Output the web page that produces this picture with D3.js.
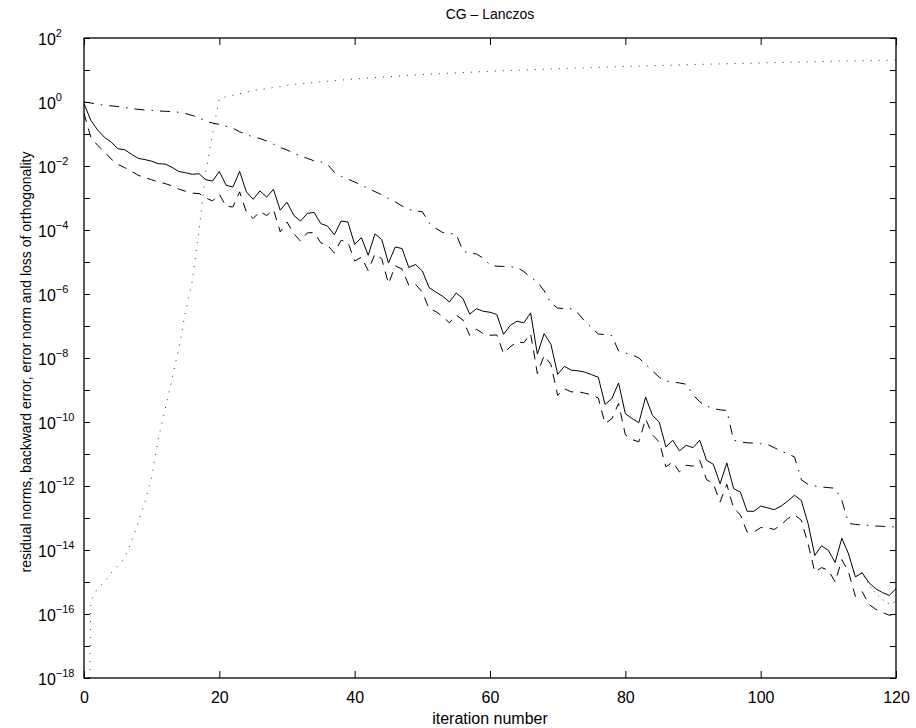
<!DOCTYPE html>
<html>
<head>
<meta charset="utf-8">
<script src="https://cdn.jsdelivr.net/npm/d3@7"></script>
<style>
  html, body { margin: 0; padding: 0; background: #fff; }
  svg { display: block; font-family: "Liberation Sans", Arial, Helvetica, sans-serif; }
</style>
</head>
<body>
<svg id="chart" width="916" height="728"></svg>
<script>
/* CG - Lanczos convergence plot (log10 values) */

const ITER_MAX = 120;
const X_TICKS = [0, 20, 40, 60, 80, 100, 120];
const Y_DECADES = d3.range(-18, 3); // 10^-18 .. 10^2

// residual norm (solid), log10, iterations 0..120
const residualLog = [
  -0.05, -0.57, -0.87, -1.10, -1.25, -1.46, -1.49, -1.63, -1.76, -1.80,
  -1.85, -1.93, -1.94, -2.04, -2.17, -2.21, -2.26, -2.24, -2.43, -2.47,
  -2.17, -2.60, -2.66, -2.17, -2.81, -3.04, -2.78, -2.97, -2.73, -3.38,
  -3.13, -3.54, -3.72, -3.48, -3.45, -3.80, -3.88, -4.15, -3.72, -3.75,
  -4.45, -4.24, -4.79, -4.12, -4.30, -5.03, -4.53, -4.58, -5.17, -5.08,
  -5.28, -5.80, -5.94, -6.07, -6.25, -5.97, -6.14, -6.63, -6.46, -6.54,
  -6.57, -6.64, -7.26, -6.98, -6.85, -6.90, -6.59, -7.88, -7.24, -7.57,
  -8.51, -8.26, -8.38, -8.40, -8.44, -8.52, -8.60, -9.45, -9.27, -8.78,
  -9.74, -9.89, -10.02, -9.22, -9.79, -10.00, -10.78, -10.57, -10.90, -10.73,
  -10.80, -10.57, -11.20, -11.32, -11.93, -11.28, -12.08, -12.19, -12.79, -12.79,
  -12.63, -12.68, -12.74, -12.63, -12.47, -12.29, -12.45, -13.17, -14.17, -13.87,
  -14.01, -14.39, -13.63, -14.13, -14.84, -14.71, -15.02, -15.21, -15.33, -15.42,
  -15.21
];

// backward error (dashed), log10, iterations 0..120
const backwardLog = [
  -0.35, -1.10, -1.35, -1.55, -1.78, -1.95, -2.05, -2.16, -2.29, -2.36,
  -2.43, -2.50, -2.55, -2.62, -2.72, -2.79, -2.85, -2.86, -3.00, -3.09,
  -2.88, -3.26, -3.28, -2.81, -3.44, -3.64, -3.42, -3.55, -3.36, -4.06,
  -3.75, -4.11, -4.35, -4.09, -4.08, -4.40, -4.48, -4.72, -4.32, -4.38,
  -4.97, -4.85, -5.27, -4.75, -4.90, -5.68, -5.12, -5.22, -5.73, -5.70,
  -5.94, -6.46, -6.55, -6.70, -6.90, -6.66, -6.81, -7.29, -7.10, -7.24,
  -7.29, -7.28, -7.86, -7.65, -7.50, -7.52, -7.24, -8.49, -7.92, -8.20,
  -9.17, -8.96, -9.06, -9.05, -9.10, -9.15, -9.25, -10.05, -9.90, -9.42,
  -10.40, -10.55, -10.62, -9.90, -10.40, -10.62, -11.40, -11.25, -11.56, -11.35,
  -11.38, -11.20, -11.80, -11.93, -12.50, -11.95, -12.70, -12.90, -13.44, -13.44,
  -13.30, -13.30, -13.36, -13.22, -13.02, -12.90, -13.07, -13.80, -14.69, -14.55,
  -14.63, -15.00, -14.30, -14.70, -15.45, -15.30, -15.70, -15.85, -15.95, -16.04,
  -15.99
];

// error norm (dash-dot), log10, iterations 0..120
const errorLog = [
  0.00, -0.03, -0.07, -0.10, -0.12, -0.14, -0.17, -0.20, -0.23, -0.25,
  -0.26, -0.28, -0.29, -0.30, -0.32, -0.36, -0.42, -0.49, -0.60, -0.66,
  -0.70, -0.76, -0.82, -0.93, -1.02, -1.09, -1.14, -1.22, -1.32, -1.42,
  -1.50, -1.60, -1.69, -1.76, -1.84, -1.87, -1.95, -2.20, -2.32, -2.41,
  -2.50, -2.60, -2.70, -2.80, -2.90, -3.02, -3.12, -3.25, -3.36, -3.40,
  -3.43, -3.78, -3.95, -4.08, -4.11, -4.13, -4.66, -4.72, -4.75, -4.88,
  -5.10, -5.13, -5.14, -5.15, -5.17, -5.30, -5.48, -5.62, -5.90, -6.28,
  -6.44, -6.46, -6.46, -6.60, -6.85, -7.05, -7.25, -7.27, -7.30, -7.78,
  -7.84, -7.90, -8.00, -8.20, -8.40, -8.60, -8.72, -8.75, -8.78, -8.82,
  -9.15, -9.37, -9.50, -9.58, -9.62, -9.64, -10.57, -10.62, -10.65, -10.66,
  -10.68, -10.70, -10.80, -10.90, -11.00, -11.09, -11.80, -11.95, -12.00, -12.03,
  -12.05, -12.07, -12.45, -13.17, -13.20, -13.22, -13.23, -13.25, -13.26, -13.27,
  -13.28
];

// loss of orthogonality (dotted), log10 at the listed iterations
const orthIter = [0, 1, 2, 3, 4, 5, 6, 7, 8, 9, 10, 11, 12, 13, 14, 15, 16, 17, 18, 19,
  20, 22, 25, 28, 31, 35, 40, 50, 60, 70, 80, 90, 100, 110, 120];
const orthLog = [-32, -15.6, -15.2, -15.0, -14.72, -14.5, -14.25, -13.75, -13.15, -12.5,
  -11.72, -10.5, -9.6, -8.65, -7.7, -6.55, -5.6, -4.0, -2.2, -1.0,
  0.12, 0.21, 0.36, 0.45, 0.55, 0.63, 0.72, 0.86, 0.96, 1.04, 1.11, 1.17, 1.22, 1.27, 1.31];

// recursively updated residual (dotted), only visible apart from the solid at the end
const updIter = [113, 114, 115, 116, 117, 118, 119, 120];
const updLog = [-14.13, -14.84, -14.71, -15.10, -15.35, -15.55, -15.68, -15.62];

// ── Layout ───────────────────────────────────────────────────────────────────

const svg = d3.select("#chart");
const L = 84, R = 896, T = 38, B = 678;

const x = d3.scaleLinear().domain([0, ITER_MAX]).range([L, R]);
const y = d3.scaleLog().domain([1e-18, 1e2]).range([B, T]);

const toPts = (xs, logs) => logs.map((v, i) => [xs[i], Math.pow(10, v)]);
const iters = d3.range(0, ITER_MAX + 1);

svg.append("defs").append("clipPath").attr("id", "plotClip")
  .append("rect").attr("x", L).attr("y", T).attr("width", R - L).attr("height", B - T);

const line = d3.line().x(d => x(d[0])).y(d => y(d[1]));
const plot = svg.append("g").attr("clip-path", "url(#plotClip)");

const series = [
  { pts: toPts(orthIter, orthLog), dash: "1,7", color: "#333" },
  { pts: toPts(updIter, updLog), dash: "1,5", color: "#333" },
  { pts: toPts(iters, errorLog), dash: "10,7,1.5,7", color: "#000" },
  { pts: toPts(iters, backwardLog), dash: "9,7", color: "#000" },
  { pts: toPts(iters, residualLog), dash: null, color: "#000" },
];

series.forEach(s => {
  plot.append("path")
    .datum(s.pts)
    .attr("d", line)
    .attr("fill", "none")
    .attr("stroke", s.color)
    .attr("stroke-width", 1)
    .attr("stroke-dasharray", s.dash);
});

// ── Axes (ticks inward on all four sides) ────────────────────────────────────

const tickVals = Y_DECADES.map(e => Math.pow(10, e));

svg.append("g").attr("transform", `translate(0,${B})`)
  .call(d3.axisBottom(x).tickValues(X_TICKS).tickSizeInner(-7).tickSizeOuter(0).tickPadding(14))
  .call(g => g.select(".domain").remove())
  .call(g => g.selectAll("text").attr("font-size", 16).attr("font-family", null).attr("fill", "#000"));

svg.append("g").attr("transform", `translate(0,${T})`)
  .call(d3.axisTop(x).tickValues(X_TICKS).tickSizeInner(-7).tickSizeOuter(0).tickFormat(""))
  .call(g => g.select(".domain").remove());

const yLeft = svg.append("g").attr("transform", `translate(${L},0)`)
  .call(d3.axisLeft(y).tickValues(tickVals).tickSizeInner(-6).tickSizeOuter(0).tickFormat(""))
  .call(g => g.select(".domain").remove());

svg.append("g").attr("transform", `translate(${R},0)`)
  .call(d3.axisRight(y).tickValues(tickVals).tickSizeInner(-6).tickSizeOuter(0).tickFormat(""))
  .call(g => g.select(".domain").remove());

svg.selectAll(".tick line").attr("stroke", "#000");

// y tick labels: 10^e on even decades
yLeft.selectAll(".tick").each(function(d) {
  const e = Math.round(Math.log10(d));
  if (e % 2 !== 0) return;
  const t = d3.select(this).append("text")
    .attr("x", 38 - L)
    .attr("y", 6)
    .attr("text-anchor", "start")
    .attr("font-size", 16)
    .attr("fill", "#000");
  t.append("tspan").text("10");
  t.append("tspan").attr("dy", -8).attr("font-size", 11)
    .text(e < 0 ? "\u2212" + Math.abs(e) : String(e));
});

// box
svg.append("rect")
  .attr("x", L).attr("y", T).attr("width", R - L).attr("height", B - T)
  .attr("fill", "none").attr("stroke", "#000").attr("stroke-width", 1.3);

// ── Labels ───────────────────────────────────────────────────────────────────

svg.append("text")
  .attr("x", (L + R) / 2).attr("y", 19)
  .attr("text-anchor", "middle").attr("font-size", 14)
  .text("CG \u2013 Lanczos");

svg.append("text")
  .attr("x", (L + R) / 2).attr("y", 724)
  .attr("text-anchor", "middle").attr("font-size", 16)
  .text("iteration number");

svg.append("text")
  .attr("transform", `translate(31,${(T + B) / 2 + 4}) rotate(-90)`)
  .attr("text-anchor", "middle").attr("font-size", 14)
  .text("residual norms, backward error, error norm and loss of orthogonality");
</script>
</body>
</html>
